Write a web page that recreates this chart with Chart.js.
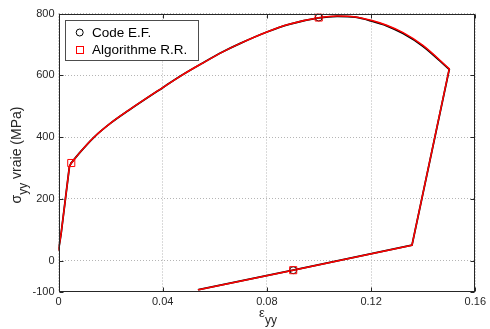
<!DOCTYPE html>
<html>
<head>
<meta charset="utf-8">
<script src="https://cdn.jsdelivr.net/npm/chart.js@4.4.0/dist/chart.umd.min.js"></script>
<style>
html,body{margin:0;padding:0;background:#fff;}
#wrap{width:490px;height:329px;position:relative;}
</style>
</head>
<body>
<div id="wrap"><canvas id="c" width="490" height="329"></canvas></div>
<script>
// ---- data ----
const seriesLabels = ['Code E.F.', 'Algorithme R.R.'];
const xTicks = [0, 0.04, 0.08, 0.12, 0.16];
const yTicks = [-100, 0, 200, 400, 600, 800];

// Code E.F. : elastic loading, hardening curve, unloading
const codeEF_load_x = [0, 0.001, 0.0042, 0.0049];
const codeEF_load_y = [35, 87, 305, 316];
const codeEF_curve_x = [0.0049, 0.008, 0.0137, 0.02, 0.027, 0.04, 0.0473, 0.055, 0.0631, 0.07, 0.08, 0.0885, 0.0999, 0.107, 0.114, 0.12, 0.126, 0.1323, 0.1399, 0.15];
const codeEF_curve_y = [316, 348, 400, 445, 487, 560, 600, 638, 676, 704, 740, 765, 786, 791, 788, 776, 760, 735, 694, 619];
const codeEF_unload_x = [0.15, 0.1357, 0.0901, 0.0538];
const codeEF_unload_y = [619, 50, -31, -94];

// Algorithme R.R.
const algoRR_load_x = [0, 0.001, 0.0042, 0.0049];
const algoRR_load_y = [35, 87, 305, 316];
const algoRR_curve_x = [0.0049, 0.008, 0.0137, 0.02, 0.027, 0.04, 0.0473, 0.055, 0.0631, 0.07, 0.08, 0.0885, 0.0999, 0.107, 0.114, 0.12, 0.126, 0.1323, 0.1399, 0.15];
const algoRR_curve_y = [316, 348, 400, 445, 487, 560, 600, 638, 676, 704, 740, 765, 786, 792, 789, 778, 762, 738, 697, 621];
const algoRR_unload_x = [0.15, 0.1357, 0.0901, 0.0538];
const algoRR_unload_y = [621, 50, -31, -94];

const codeEFMarks_x = [0.0999, 0.0901];
const codeEFMarks_y = [787, -31];
const algoRRMarks_x = [0.0049, 0.0999, 0.0901];
const algoRRMarks_y = [316, 787, -31];

const zip = (xs, ys) => xs.map((x, i) => ({x: x, y: ys[i]}));

const TXT = '#262626';
const FONT = '"Liberation Sans", Arial, Helvetica, sans-serif';

const boxPlugin = {
  id: 'matlabBox',
  afterDraw(chart) {
    const ctx = chart.ctx;
    const a = chart.chartArea;
    const xs = chart.scales.x, ys = chart.scales.y;
    const L = Math.round(a.left) + 0.5, R = Math.round(a.right) - 0.5;
    const T = Math.round(a.top) + 0.5, B = Math.round(a.bottom) - 0.5;
    ctx.save();
    ctx.strokeStyle = TXT;
    ctx.lineWidth = 1;
    ctx.setLineDash([]);
    ctx.strokeRect(L, T, R - L, B - T);
    const tl = 4;
    ctx.beginPath();
    xTicks.forEach(v => {
      const p = Math.round(xs.getPixelForValue(v)) + 0.5;
      ctx.moveTo(p, B); ctx.lineTo(p, B - tl);
      ctx.moveTo(p, T); ctx.lineTo(p, T + tl);
    });
    yTicks.forEach(v => {
      const p = Math.round(ys.getPixelForValue(v)) + 0.5;
      ctx.moveTo(L, p); ctx.lineTo(L + tl, p);
      ctx.moveTo(R, p); ctx.lineTo(R - tl, p);
    });
    ctx.stroke();

    // legend
    const lx = 65.5, ly = 20.5, lw = 133, lh = 40;
    ctx.fillStyle = '#fff';
    ctx.fillRect(lx, ly, lw, lh);
    ctx.strokeStyle = '#4d4d4d';
    ctx.strokeRect(lx, ly, lw, lh);
    ctx.font = '13.5px ' + FONT;
    ctx.fillStyle = '#000';
    ctx.textBaseline = 'middle';
    ctx.textAlign = 'left';
    ctx.strokeStyle = '#000';
    ctx.beginPath();
    ctx.arc(79.7, 32.5, 3.5, 0, Math.PI * 2);
    ctx.stroke();
    ctx.fillText(seriesLabels[0], 92, 33);
    ctx.strokeStyle = '#ff0000';
    ctx.strokeRect(76.5, 46.5, 7, 7);
    ctx.fillText(seriesLabels[1], 92, 50.5);

    // axis titles
    ctx.fillStyle = TXT;
    ctx.textBaseline = 'alphabetic';
    ctx.font = '13px ' + FONT;
    const e = '\u03b5';
    const ew = ctx.measureText(e).width;
    ctx.font = '12px ' + FONT;
    const sw = ctx.measureText('yy').width;
    const xStart = 268 - (ew + sw) / 2;
    ctx.font = '13px ' + FONT;
    ctx.fillText(e, xStart, 317);
    ctx.font = '12px ' + FONT;
    ctx.fillText('yy', xStart + ew, 324);

    ctx.save();
    ctx.translate(21, 155);
    ctx.rotate(-Math.PI / 2);
    ctx.font = '14px ' + FONT;
    const s1 = '\u03c3';
    const w1 = ctx.measureText(s1).width;
    ctx.font = '12px ' + FONT;
    const w2 = ctx.measureText('yy').width;
    ctx.font = '14px ' + FONT;
    const s3 = ' vraie (MPa)';
    const w3 = ctx.measureText(s3).width;
    let px = -(w1 + w2 + w3) / 2;
    ctx.fillText(s1, px, 0);
    ctx.font = '12px ' + FONT;
    ctx.fillText('yy', px + w1, 6);
    ctx.font = '14px ' + FONT;
    ctx.fillText(s3, px + w1 + w2, 0);
    ctx.restore();

    ctx.restore();
  }
};

function lineDs(label, xs, ys, color, width, smooth, order) {
  const ds = {label: label, data: zip(xs, ys), showLine: true, borderColor: color, borderWidth: width,
    pointRadius: 0, tension: 0, order: order, borderCapStyle: 'round', borderJoinStyle: 'round'};
  if (smooth) ds.cubicInterpolationMode = 'monotone';
  return ds;
}

new Chart(document.getElementById('c'), {
  type: 'scatter',
  data: {
    datasets: [
      lineDs(seriesLabels[0], codeEF_load_x, codeEF_load_y, '#000', 1.8, false, 6),
      lineDs(seriesLabels[0], codeEF_curve_x, codeEF_curve_y, '#000', 1.8, true, 6),
      lineDs(seriesLabels[0], codeEF_unload_x, codeEF_unload_y, '#000', 1.8, false, 6),
      lineDs(seriesLabels[1], algoRR_load_x, algoRR_load_y, '#ff0000', 1.5, false, 5),
      lineDs(seriesLabels[1], algoRR_curve_x, algoRR_curve_y, '#ff0000', 1.5, true, 5),
      lineDs(seriesLabels[1], algoRR_unload_x, algoRR_unload_y, '#ff0000', 1.5, false, 5),
      {label: seriesLabels[0] + ' marks', data: zip(codeEFMarks_x, codeEFMarks_y), showLine: false, pointStyle: 'circle', pointRadius: 3.5, borderColor: '#000', backgroundColor: 'rgba(0,0,0,0)', borderWidth: 1, order: 2},
      {label: seriesLabels[1] + ' marks', data: zip(algoRRMarks_x, algoRRMarks_y), showLine: false, pointStyle: 'rect', pointRadius: 5, borderColor: '#ff0000', backgroundColor: 'rgba(0,0,0,0)', borderWidth: 1, order: 1}
    ]
  },
  options: {
    responsive: false,
    animation: false,
    events: [],
    layout: {padding: {top: 13.5, right: 10.5, left: 0, bottom: 0}},
    plugins: {legend: {display: false}, tooltip: {enabled: false}},
    scales: {
      x: {
        type: 'linear', min: 0, max: 0.16,
        afterBuildTicks: s => { s.ticks = xTicks.map(v => ({value: v})); },
        afterFit: s => { s.height = 37.5; },
        ticks: {color: TXT, font: {family: FONT, size: 11}, padding: 4, maxRotation: 0,
          callback: v => String(+v.toFixed(2))},
        grid: {color: '#b5b5b5', lineWidth: 1, drawTicks: false},
        border: {display: false, dash: [1, 2]}
      },
      y: {
        type: 'linear', min: -100, max: 800,
        afterBuildTicks: s => { s.ticks = yTicks.map(v => ({value: v})); },
        afterFit: s => { s.width = 58.5; },
        ticks: {color: TXT, font: {family: FONT, size: 11}, padding: 4,
          callback: v => String(v)},
        grid: {color: '#b5b5b5', lineWidth: 1, drawTicks: false},
        border: {display: false, dash: [1, 2]}
      }
    }
  },
  plugins: [boxPlugin]
});
</script>
</body>
</html>
